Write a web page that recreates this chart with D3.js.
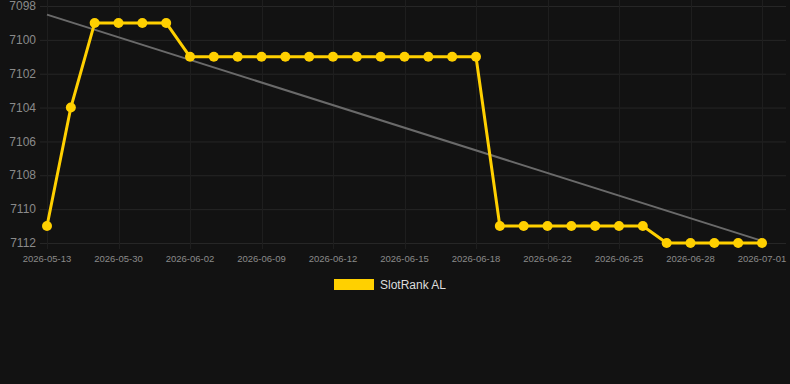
<!DOCTYPE html>
<html><head><meta charset="utf-8">
<script src="https://cdn.jsdelivr.net/npm/d3@7"></script>
<style>
html,body{margin:0;padding:0;background:#121212;}
svg{display:block;font-family:Arial, "Liberation Sans", sans-serif;}
</style></head>
<body>
<svg id="c" width="790" height="384"></svg>
<script>
const tickLabels = ["2026-05-13","2026-05-30","2026-06-02","2026-06-09","2026-06-12","2026-06-15","2026-06-18","2026-06-22","2026-06-25","2026-06-28","2026-07-01"];
const tickEvery = 3;
const values = [7111,7104,7099,7099,7099,7099,7101,7101,7101,7101,7101,7101,7101,7101,7101,7101,7101,7101,7101,7111,7111,7111,7111,7111,7111,7111,7112,7112,7112,7112,7112];
const yTicks = [7098,7100,7102,7104,7106,7108,7110,7112];
const seriesName = "SlotRank AL";

const svg = d3.select("#c");
const W = 790, H = 384;
svg.append("rect").attr("width",W).attr("height",H).attr("fill","#121212");

const idx = values.map((d,i)=>i);
const x = d3.scaleLinear().domain([0, values.length-1]).range([47, 762]);
const y = d3.scaleLinear().domain([7098, 7112]).range([6, 243]);
const left = 40, right = 786;

// grid
const g = svg.append("g");
g.selectAll("line.h").data(yTicks).enter().append("line")
  .attr("x1", left).attr("x2", right)
  .attr("y1", d=>y(d)+0.5).attr("y2", d=>y(d)+0.5)
  .attr("stroke", "#262626").attr("stroke-width",1);
const xt = tickLabels.map((t,i)=>({t, i: i*tickEvery}));
g.selectAll("line.v").data(xt).enter().append("line")
  .attr("x1", d=>Math.round(x(d.i))+0.5).attr("x2", d=>Math.round(x(d.i))+0.5)
  .attr("y1", 0).attr("y2", 249)
  .attr("stroke", "#1e1e1e").attr("stroke-width",1);

// y axis labels
svg.append("g").selectAll("text").data(yTicks).enter().append("text")
  .attr("x", 36).attr("y", d=>y(d)).attr("dy","0.35em")
  .attr("text-anchor","end").attr("fill","#8a8a8a").attr("font-size",12)
  .text(d=>d);

// x axis labels
svg.append("g").selectAll("text").data(xt).enter().append("text")
  .attr("x", d=>x(d.i)).attr("y", 262)
  .attr("text-anchor","middle").attr("fill","#8a8a8a").attr("font-size",9.5)
  .text(d=>d.t);

// trend line (least squares)
const n = values.length;
const mx = d3.mean(idx), my = d3.mean(values);
let sxy=0, sxx=0;
idx.forEach(i=>{ sxy += (i-mx)*(values[i]-my); sxx += (i-mx)*(i-mx); });
const slope = sxy/sxx, icpt = my - slope*mx;
svg.append("line")
  .attr("x1", x(0)).attr("y1", y(icpt))
  .attr("x2", x(n-1)).attr("y2", y(icpt + slope*(n-1)))
  .attr("stroke","#6a6a6a").attr("stroke-width",2);

// series line
const line = d3.line().x((d,i)=>x(i)).y(d=>y(d));
svg.append("path").datum(values).attr("d", line)
  .attr("fill","none").attr("stroke","#FFD000").attr("stroke-width",3).attr("stroke-linejoin","round");
svg.append("g").selectAll("circle").data(values).enter().append("circle")
  .attr("cx",(d,i)=>x(i)).attr("cy",d=>y(d)).attr("r",5).attr("fill","#FFD000");

// legend
svg.append("rect").attr("x",334).attr("y",279).attr("width",40).attr("height",11).attr("fill","#FFD000");
svg.append("text").attr("x",380).attr("y",285).attr("dy","0.35em")
  .attr("fill","#dddddd").attr("font-size",12).text(seriesName);
</script>
</body></html>
